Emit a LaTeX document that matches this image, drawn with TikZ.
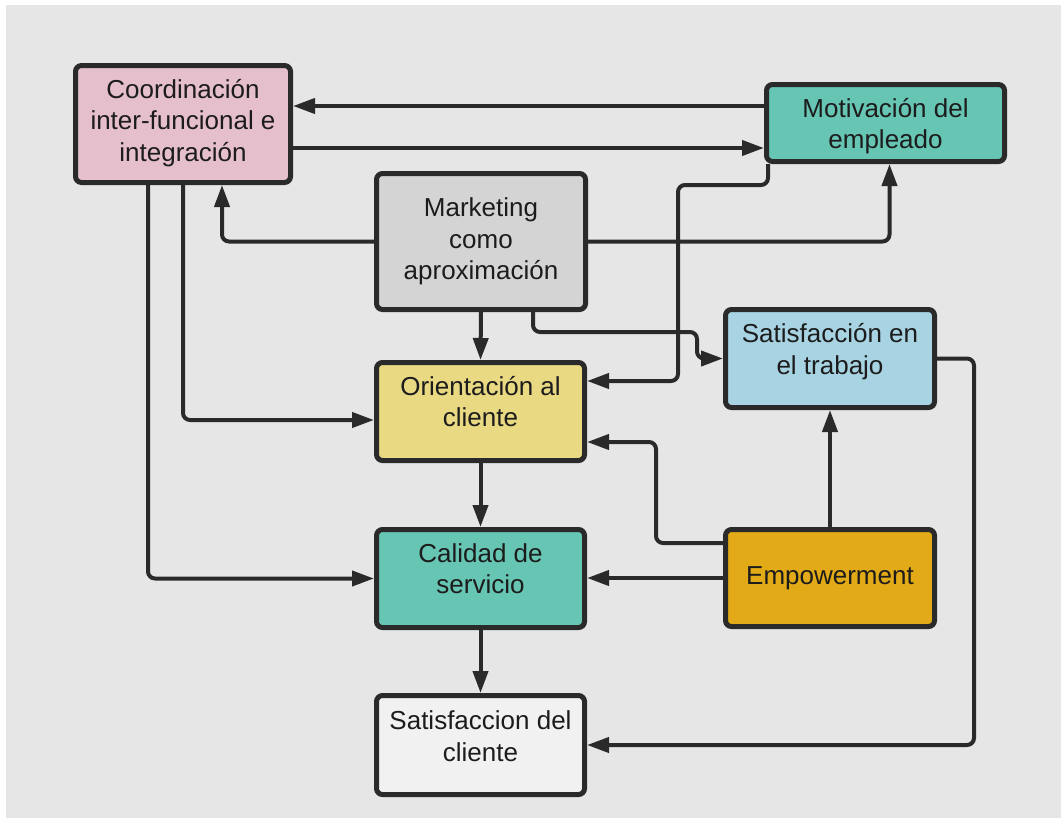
\documentclass[tikz,border=0pt]{standalone}
\usepackage{fontspec}
\setmainfont{Liberation Sans}
\usetikzlibrary{arrows.meta}

\definecolor{pagebg}{HTML}{E6E6E6}
\definecolor{inkline}{HTML}{2A2A2A}
\definecolor{inktext}{HTML}{1C1C1C}
\definecolor{pinkfill}{HTML}{E6BFCD}
\definecolor{tealfill}{HTML}{67C5B3}
\definecolor{greyfill}{HTML}{D4D4D4}
\definecolor{bluefill}{HTML}{A8D3E3}
\definecolor{yellowfill}{HTML}{E8D982}
\definecolor{orangefill}{HTML}{E2AA16}
\definecolor{whitefill}{HTML}{F1F1F1}

\tikzset{
  box/.style={draw=inkline, line width=5pt, rounded corners=6pt,
    inner sep=0pt},
  label text/.style={text=inktext, align=center, inner sep=0pt,
    font=\fontsize{26}{31.5}\selectfont},
  link/.style={draw=inkline, line width=4pt, rounded corners=7pt,
    -{Triangle[length=22pt,width=15pt]}},
}

\begin{document}
\begin{tikzpicture}[x=1pt,y=-1pt]
  \useasboundingbox (0,0) rectangle (1061,819);
  \fill[white] (0,0) rectangle (1061,819);
  \fill[pagebg] (6,5) rectangle (1061,818);

  % boxes (outer size minus the border width)
  \node[box, fill=pinkfill,   minimum width=215pt, minimum height=117pt] (coord)  at (183,124)   {};
  \node[box, fill=tealfill,   minimum width=238pt, minimum height=77pt]  (motiv)  at (885.5,123) {};
  \node[box, fill=greyfill,   minimum width=209pt, minimum height=136pt] (mkt)    at (481,241.5) {};
  \node[box, fill=bluefill,   minimum width=209pt, minimum height=98pt]  (sattr)  at (830,358.5) {};
  \node[box, fill=yellowfill, minimum width=208pt, minimum height=98pt]  (orient) at (480.5,411.5) {};
  \node[box, fill=tealfill,   minimum width=208pt, minimum height=98pt]  (calid)  at (480.5,578.5) {};
  \node[box, fill=orangefill, minimum width=209pt, minimum height=97pt]  (empow)  at (830,578) {};
  \node[box, fill=whitefill,  minimum width=208pt, minimum height=99pt]  (satcl)  at (480.5,745) {};

  % texts
  \node[label text] (coordT)  at ([yshift=1pt]coord.center) {Coordinación\\inter-funcional e\\integración};
  \node[label text] (motivT)  at ([yshift=-3pt]motiv.center) {Motivación del\\empleado};
  \node[label text] (mktT)    at (mkt)    {Marketing\\como\\aproximación};
  \node[label text] (sattrT)  at ([yshift=7pt]sattr.center) {Satisfacción en\\el trabajo};
  \node[label text] (orientT) at ([yshift=10pt]orient.center) {Orientación al\\cliente};
  \node[label text] (calidT)  at ([yshift=10pt]calid.center)  {Calidad de\\servicio};
  \node[label text] (empowT)  at (empow)  {Empowerment};
  \node[label text] (satclT)  at ([yshift=9pt]satcl.center) {Satisfaccion del\\cliente};

  % connectors
  \draw[link] (motiv.west |- 0,106) -- (coord.east |- 0,106);
  \draw[link] (coord.east |- 0,148) -- (motiv.west |- 0,148);
  \draw[link] (mkt.west) -| ([xshift=39pt]coord.south);
  \draw[link] (mkt.east) -| ([xshift=4pt]motiv.south);
  \draw[link] (motiv.south -| 768,0) |- (678,185) |- (orient.east |- 0,381);
  \draw[link] (mkt.south -| 533,0) |- (697,332) |- (sattr.west);
  \draw[link] (mkt.south) -- (orient.north);
  \draw[link] (coord.south) |- (orient.west |- 0,420);
  \draw[link] (coord.south -| 148,0) |- (calid.west);
  \draw[link] (orient.south) -- (calid.north);
  \draw[link] (calid.south) -- (satcl.north);
  \draw[link] (empow.west |- 0,543) -| (656,442) -- (orient.east |- 0,442);
  \draw[link] (empow.west) -- (calid.east |- empow.west);
  \draw[link] (empow.north) -- (sattr.south);
  \draw[link] (sattr.east) -| ([xshift=387pt]satcl.east) -- (satcl.east);
\end{tikzpicture}
\end{document}
